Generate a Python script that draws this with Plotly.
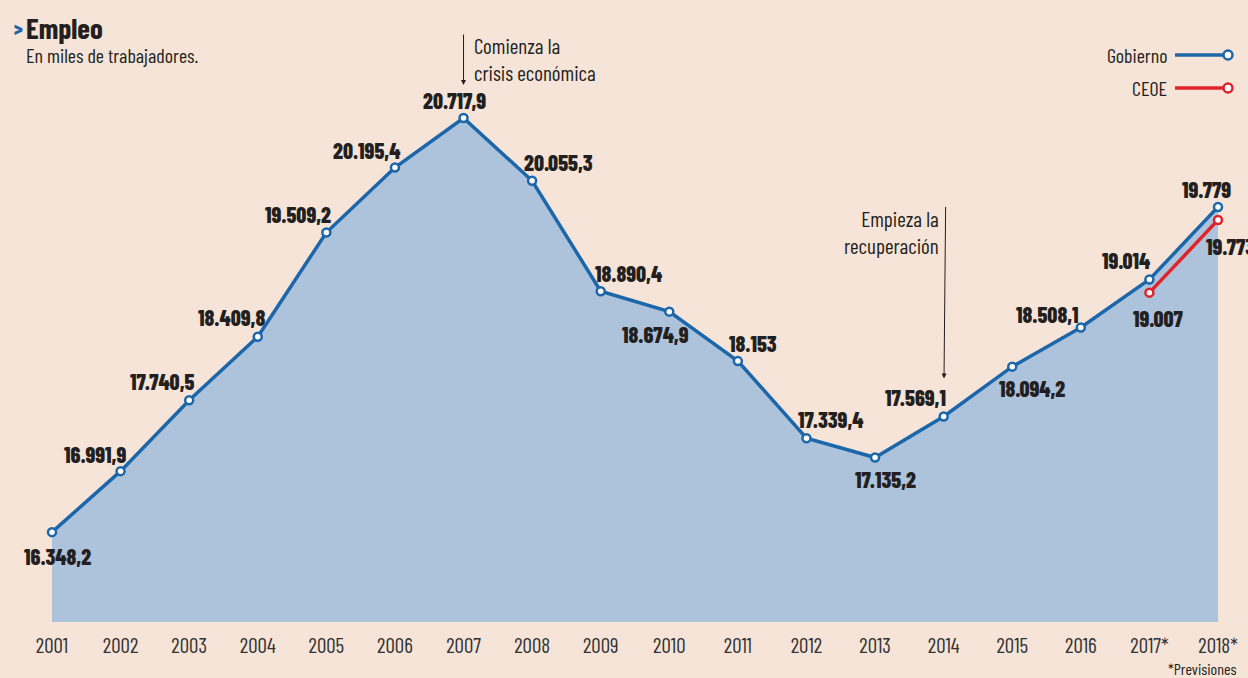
import plotly.graph_objects as go

# ---------------- data ----------------
years = [2001, 2002, 2003, 2004, 2005, 2006, 2007, 2008, 2009, 2010,
         2011, 2012, 2013, 2014, 2015, 2016, 2017, 2018]
tick_labels = ["2001", "2002", "2003", "2004", "2005", "2006", "2007", "2008", "2009",
               "2010", "2011", "2012", "2013", "2014", "2015", "2016", "2017*", "2018*"]
gobierno = [16348.2, 16991.9, 17740.5, 18409.8, 19509.2, 20195.4, 20717.9, 20055.3,
            18890.4, 18674.9, 18153.0, 17339.4, 17135.2, 17569.1, 18094.2, 18508.1,
            19014.0, 19779.0]
gobierno_labels = ["16.348,2", "16.991,9", "17.740,5", "18.409,8", "19.509,2", "20.195,4",
                   "20.717,9", "20.055,3", "18.890,4", "18.674,9", "18.153", "17.339,4",
                   "17.135,2", "17.569,1", "18.094,2", "18.508,1", "19.014", "19.779"]
ceoe_years = [2017, 2018]
ceoe = [19007.0, 19773.0]
ceoe_labels = ["19.007", "19.773"]

# label offsets (px) relative to each point: (xshift, yshift)
gob_offsets = [(5, -24), (-26, 17), (-27, 19), (-26, 20), (-28, 19), (-28, 18), (-9, 18),
               (26, 19), (28, 18), (-14, -22), (15, 18), (25, 19), (10, -21), (-28, 19),
               (20, -21), (-33, 13), (-23, 19), (-12, 18)]
ceoe_offsets = [(9, -25), (12, -26)]

# ---------------- style ----------------
BG = "#f6e4d8"
FILL = "#adc3dc"
BLUE = "#1c66aa"
RED = "#e0232a"
TXT = "#231f20"
FONT = "Barlow Condensed, Roboto Condensed, DejaVu Sans Condensed, sans-serif"

Y0, Y1 = 15400, 21963
CEOE_SHIFT = 132  # visual separation of the CEOE line, as in the original

W, H = 1248, 678
L, R, T, B = 52, 30, 0, 56
pw, ph = W - L - R, H - T - B


def px(xp):
    return (xp - L) / pw


def py(yp):
    return 1 - (yp - T) / ph


fig = go.Figure()

fig.add_trace(go.Scatter(
    x=years, y=gobierno, mode="lines+markers", fill="tozeroy", fillcolor=FILL,
    line=dict(color=BLUE, width=3.5),
    marker=dict(symbol="circle", size=8, color="white", line=dict(color=BLUE, width=2.5)),
    cliponaxis=False, showlegend=False, hoverinfo="skip"))

fig.add_trace(go.Scatter(
    x=ceoe_years, y=ceoe, yaxis="y2", mode="lines+markers",
    line=dict(color=RED, width=3.5),
    marker=dict(symbol="circle", size=8, color="white", line=dict(color=RED, width=2.5)),
    cliponaxis=False, showlegend=False, hoverinfo="skip"))

shapes = []
for x, v in zip(years, gobierno):
    shapes.append(dict(type="line", xref="x", yref="y", x0=x, x1=x, y0=Y0, y1=v,
                       line=dict(color="#8a8a8a", width=1, dash="3px,3px"), layer="below"))

annotations = []
LBL = dict(family=FONT, size=22, color=TXT, weight=800)
for x, v, t, (dx, dy) in zip(years, gobierno, gobierno_labels, gob_offsets):
    annotations.append(dict(x=x, y=v, xref="x", yref="y", text=t, showarrow=False,
                            xshift=dx, yshift=dy, font=LBL))
for x, v, t, (dx, dy) in zip(ceoe_years, ceoe, ceoe_labels, ceoe_offsets):
    annotations.append(dict(x=x, y=v, xref="x", yref="y2", text=t, showarrow=False,
                            xshift=dx, yshift=dy, font=LBL))

# arrows + notes
NOTE = dict(family=FONT, size=21, color=TXT)
annotations.append(dict(x=2007, y=gobierno[6], xref="x", yref="y", text="", showarrow=True,
                        ax=0, ay=-85, standoff=33, arrowhead=2, arrowsize=1, arrowwidth=1,
                        arrowcolor=TXT))
annotations.append(dict(x=2007, y=gobierno[6], xref="x", yref="y",
                        text="Comienza la<br>crisis económica", showarrow=False,
                        xanchor="left", yanchor="top", align="left", xshift=8, yshift=87,
                        font=NOTE))
annotations.append(dict(x=2014, y=gobierno[13], xref="x", yref="y", text="", showarrow=True,
                        ax=2, ay=-211, standoff=38, arrowhead=2, arrowsize=1, arrowwidth=1,
                        arrowcolor=TXT))
annotations.append(dict(x=2014, y=gobierno[13], xref="x", yref="y",
                        text="Empieza la<br>recuperación", showarrow=False,
                        xanchor="right", yanchor="top", align="right", xshift=-3, yshift=212,
                        font=NOTE))

# title
annotations.append(dict(x=px(12), y=py(28), xref="paper", yref="paper", text=">",
                        showarrow=False, xanchor="left", yanchor="middle",
                        font=dict(family=FONT, size=20, color=BLUE, weight=800)))
annotations.append(dict(x=px(24), y=py(27), xref="paper", yref="paper", text="Empleo",
                        showarrow=False, xanchor="left", yanchor="middle",
                        font=dict(family=FONT, size=29, color=TXT, weight=700)))
annotations.append(dict(x=px(24), y=py(55), xref="paper", yref="paper",
                        text="En miles de trabajadores.", showarrow=False,
                        xanchor="left", yanchor="middle",
                        font=dict(family=FONT, size=20, color=TXT)))

# legend
for name, color, yy in [("Gobierno", BLUE, 55), ("CEOE", RED, 88)]:
    annotations.append(dict(x=px(1169), y=py(yy), xref="paper", yref="paper", text=name,
                            showarrow=False, xanchor="right", yanchor="middle",
                            font=dict(family=FONT, size=20, color=TXT)))
    shapes.append(dict(type="line", xref="paper", yref="paper", x0=px(1175), x1=px(1228),
                       y0=py(yy), y1=py(yy), line=dict(color=color, width=3.5)))
    shapes.append(dict(type="circle", xref="paper", yref="paper", x0=px(1223.5), x1=px(1232.5),
                       y0=py(yy + 4.5), y1=py(yy - 4.5), fillcolor="white",
                       line=dict(color=color, width=2.5)))

# footnote
annotations.append(dict(x=px(1238), y=py(668.5), xref="paper", yref="paper", text="*Previsiones",
                        showarrow=False, xanchor="right", yanchor="middle",
                        font=dict(family=FONT, size=16, color=TXT)))

fig.update_layout(
    width=W, height=H, autosize=False,
    margin=dict(l=L, r=R, t=T, b=B, pad=0),
    paper_bgcolor=BG, plot_bgcolor=BG,
    xaxis=dict(range=[years[0], years[-1]], tickmode="array", tickvals=years,
               ticktext=tick_labels, showgrid=False, zeroline=False, showline=False,
               ticks="", ticklabelstandoff=9,
               tickfont=dict(family=FONT, size=21, color="#333333")),
    yaxis=dict(range=[Y0, Y1], visible=False, showgrid=False, zeroline=False),
    yaxis2=dict(range=[Y0 + CEOE_SHIFT, Y1 + CEOE_SHIFT], overlaying="y", visible=False,
                showgrid=False, zeroline=False),
    shapes=shapes, annotations=annotations,
)

fig.write_html("out.html", include_plotlyjs=True, config={"displayModeBar": False},
               post_script="document.body.style.margin='0';document.body.style.overflow='hidden';")
